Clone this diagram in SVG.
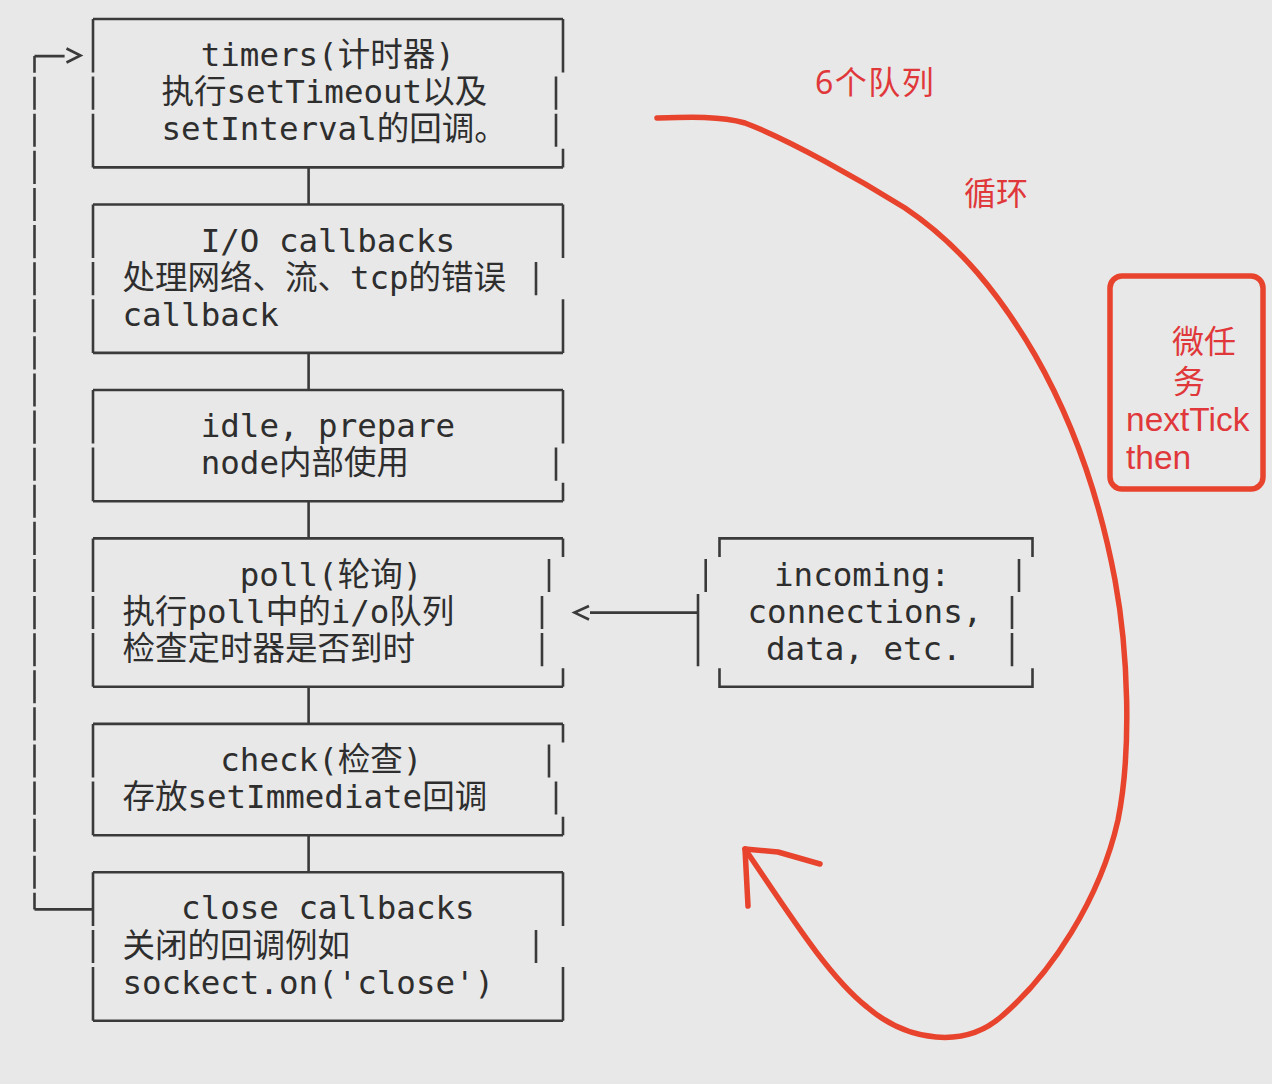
<svg xmlns="http://www.w3.org/2000/svg" width="1272" height="1084" viewBox="0 0 1272 1084">
<style>
.b{fill:none;stroke:#3a3a3a;stroke-width:2.6;stroke-linecap:butt}
.t{font-family:"DejaVu Sans Mono","Noto Sans CJK SC",monospace;font-size:32.5px;fill:#2e2e2e}
.r{font-family:"Noto Sans","Noto Sans CJK SC",sans-serif;font-size:32px;fill:#e0383a}
.rl{font-family:"Liberation Sans","Noto Sans CJK SC",sans-serif;font-size:33.5px;fill:#e0383a}
.rs{fill:none;stroke:#e8432d;stroke-width:5.5;stroke-linecap:round;stroke-linejoin:round}
</style>
<rect x="0" y="0" width="1272" height="1084" fill="#e8e8e8"/>

<g id="connectors">
  <path class="b" d="M308.6 167.4V204.5M308.6 352.9V390M308.6 501.3V538.4M308.6 686.8V723.9M308.6 835.2V872.3"/>
  <path class="b" d="M93 909.4H34.5M34.5 56.1H64.6"/>
  <path class="b" d="M34.5 56.1V909.4" stroke-dasharray="33.1 4" stroke-dashoffset="16.55"/>
  <polyline class="b" points="66.5,48.5 80.5,55.5 66.5,62.5"/>
  <path class="b" d="M590 612.6H698"/>
  <polyline class="b" points="589,606 574.5,612.6 589,619.5"/>
  <path class="rs" d="M657 118C690 117 720 116 745 123C790 140 860 180 905 208C960 245 1000 295 1035 355C1075 425 1100 500 1115 580C1128 650 1132 750 1118 820C1100 900 1050 975 1002 1016C965 1049 908 1042 867 1007C828 976 790 915 745 849"/>
  <polyline class="rs" points="748,906 745,849 778,852 820,864"/>
</g>

<g id="timers">
  <path class="b" d="M93 19H563M93 167.4H563M93 19V72.6M93 76.6V109.7M93 113.7V167.4M563 19V72.6M556 76.6V109.7M556 113.7V146.8M563 148.85V167.4"/>
  <text class="t" x="200.7" y="66">timers(计时器)</text>
  <text class="t" x="161.5" y="103">执行setTimeout以及</text>
  <text class="t" x="161.5" y="140">setInterval的回调。</text>
</g>

<g id="io-callbacks">
  <path class="b" d="M93 204.5H563M93 352.9H563M93 204.5V258.1M93 262.1V295.2M93 299.2V352.9M563 204.5V258.1M536 262.1V295.2M563 299.2V352.9"/>
  <text class="t" x="200.7" y="252">I/O callbacks</text>
  <text class="t" x="122.4" y="289">处理网络、流、tcp的错误</text>
  <text class="t" x="122.4" y="326">callback</text>
</g>

<g id="idle-prepare">
  <path class="b" d="M93 390H563M93 501.3H563M93 390V443.6M93 447.6V501.3M563 390V443.6M556 447.6V480.7M563 482.75V501.3"/>
  <text class="t" x="200.7" y="437">idle, prepare</text>
  <text class="t" x="200.7" y="474">node内部使用</text>
</g>

<g id="poll">
  <path class="b" d="M93 538.4H563M93 686.8H563M93 538.4V592M93 596V629.1M93 633.1V686.8M563 538.4V556.9M549 558.9V592M542 596V629.1M542 633.1V666.2M563 668.25V686.8"/>
  <text class="t" x="239.8" y="585.5">poll(轮询)</text>
  <text class="t" x="122.4" y="622.6">执行poll中的i/o队列</text>
  <text class="t" x="122.4" y="659.7">检查定时器是否到时</text>
</g>

<g id="check">
  <path class="b" d="M93 723.9H563M93 835.2H563M93 723.9V777.5M93 781.5V835.2M563 723.9V742.4M549 744.4V777.5M556 781.5V814.6M563 816.65V835.2"/>
  <text class="t" x="220.3" y="771">check(检查)</text>
  <text class="t" x="122.4" y="808">存放setImmediate回调</text>
</g>

<g id="close-callbacks">
  <path class="b" d="M93 872.3H563M93 1020.7H563M93 872.3V925.9M93 929.9V963M93 967V1020.7M563 872.3V925.9M536 929.9V963M563 967V1020.7"/>
  <text class="t" x="181.1" y="919.4">close callbacks</text>
  <text class="t" x="122.4" y="956.5">关闭的回调例如</text>
  <text class="t" x="122.4" y="993.6">sockect.on('close')</text>
</g>

<g id="incoming">
  <path class="b" d="M719.5 556.9V538.4H1032.5V556.9M719.5 668.2V686.8H1032.5V668.2M705.7 558.9V592M698 594V666.2M1019 558.9V592M1012 596V629.1M1012 633.1V666.2"/>
  <text class="t" x="774" y="585.5">incoming:</text>
  <text class="t" x="747.5" y="622.6">connections,</text>
  <text class="t" x="766" y="659.7">data, etc.</text>
</g>

<g id="microtask">
  <rect x="1110" y="276" width="153" height="213" rx="12" ry="12" class="rs"/>
  <text class="r" x="1172" y="353">微任</text>
  <text class="r" x="1173" y="393">务</text>
  <text class="rl" x="1126" y="431">nextTick</text>
  <text class="rl" x="1126" y="469">then</text>
</g>

<g id="labels">
  <text class="r" x="815" y="94" letter-spacing="1.5">6个队列</text>
  <text class="r" x="964" y="204.5">循环</text>
</g>
</svg>
